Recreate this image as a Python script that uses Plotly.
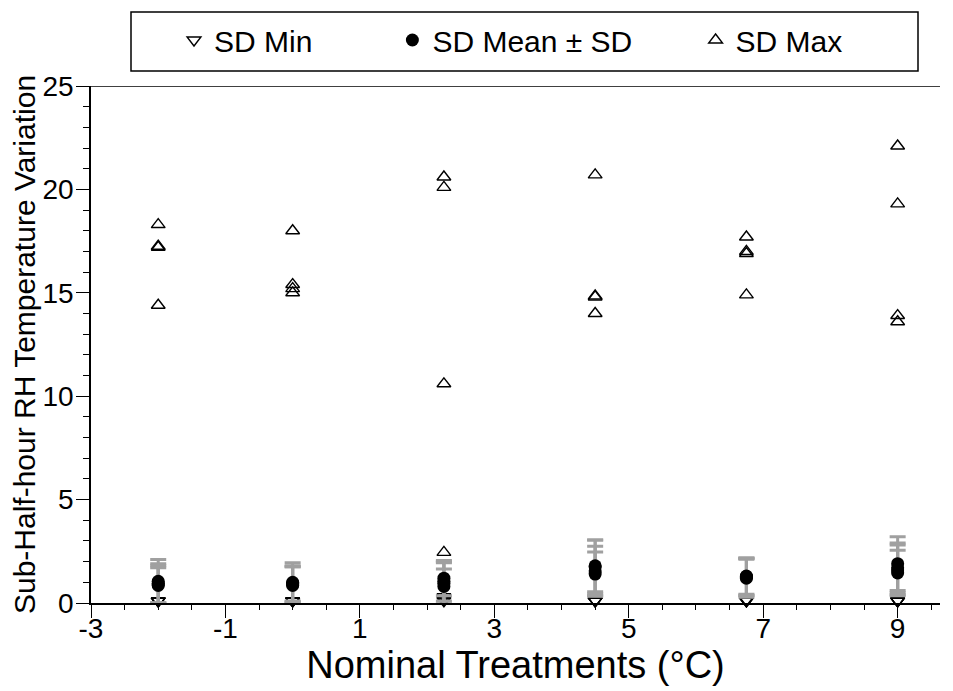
import plotly.graph_objects as go

# Nominal treatments (°C), four replicate plots each
treatments = [-2, 0, 2.25, 4.5, 6.75, 9]
reps_per_treatment = 4

sd_min = [
    0.1, 0.1, 0.1, 0.1,
    0.1, 0.1, 0.1, 0.1,
    0.1, 0.3, 0.2, 0.15,
    0.1, 0.1, 0.1, 0.1,
    0.15, 0.1, 0.1, 0.1,
    0.1, 0.1, 0.1, 0.1,
]
sd_mean = [
    0.85, 1.05, 0.95, 0.9,
    0.85, 1.0, 0.95, 0.9,
    0.8, 1.2, 0.95, 1.05,
    1.4, 1.75, 1.55, 1.8,
    1.25, 1.3, 1.2, 1.28,
    1.45, 1.9, 1.7, 1.6,
]
sd_of_sd = [
    0.85, 1.05, 0.95, 0.9,
    0.9, 0.95, 0.85, 0.85,
    0.85, 0.85, 1.0, 0.95,
    1.07, 1.3, 1.2, 1.25,
    0.9, 0.88, 0.92, 0.9,
    1.1, 1.3, 1.2, 1.2,
]
sd_max = [
    18.3, 17.2, 14.4, 17.25,
    18.0, 15.4, 15.2, 15.0,
    20.6, 20.1, 10.6, 2.45,
    20.7, 14.8, 14.0, 14.85,
    17.7, 17.0, 16.9, 14.9,
    22.1, 19.3, 13.9, 13.6,
]
legend_names = ["SD Min", "SD Mean ± SD", "SD Max"]
legend_pad = [9, 7, 0]  # trailing non-breaking spaces to space legend items

x_vals = [t for t in treatments for _ in range(reps_per_treatment)]

FONT = "Liberation Sans, Arial, Helvetica, sans-serif"
names = [n + "\u00a0" * p for n, p in zip(legend_names, legend_pad)]

# the page body has an 8px margin, so the figure is drawn 8px smaller and offset
OFF = 8
W, H = 953 - OFF, 691 - OFF
PLOT_L, PLOT_W, PLOT_T, PLOT_H = 91 - OFF, 849, 86 - OFF, 517

fig = go.Figure()
fig.add_trace(go.Scatter(
    x=x_vals, y=sd_min, mode="markers", name=names[0],
    marker=dict(symbol="triangle-down-open", size=12, color="black",
                line=dict(width=1.4, color="black")),
    cliponaxis=False,
))
fig.add_trace(go.Scatter(
    x=x_vals, y=sd_mean, mode="markers", name=names[1],
    marker=dict(symbol="circle", size=13, color="black"),
    error_y=dict(type="data", array=sd_of_sd, visible=True,
                 color="#a0a0a0", thickness=3, width=8),
    cliponaxis=False,
))
fig.add_trace(go.Scatter(
    x=x_vals, y=sd_max, mode="markers", name=names[2],
    marker=dict(symbol="triangle-up-open", size=12, color="black",
                line=dict(width=1.4, color="black")),
    cliponaxis=False,
))

# top frame line and legend box
fig.add_shape(type="line", xref="paper", yref="y", x0=0, x1=1, y0=25, y1=25,
              line=dict(color="black", width=1.5))
fig.add_shape(type="rect", xref="paper", yref="paper",
              x0=(131 - OFF - PLOT_L) / PLOT_W, x1=(918 - OFF - PLOT_L) / PLOT_W,
              y0=1 + (PLOT_T - (71 - OFF)) / PLOT_H, y1=1 + (PLOT_T - (12 - OFF)) / PLOT_H,
              line=dict(color="black", width=1.5), fillcolor="rgba(0,0,0,0)")

fig.update_layout(
    width=W, height=H,
    margin=dict(l=PLOT_L, r=W - PLOT_L - PLOT_W, t=PLOT_T, b=H - PLOT_T - PLOT_H, autoexpand=False),
    plot_bgcolor="white", paper_bgcolor="white",
    font=dict(family=FONT, color="black"),
    showlegend=True,
    legend=dict(
        orientation="h", xref="container", yref="container",
        x=(174 - OFF) / W, xanchor="left", y=1 - (40 - OFF) / H, yanchor="middle",
        font=dict(size=30, family=FONT), borderwidth=0,
        itemsizing="trace", bgcolor="rgba(0,0,0,0)",
    ),
    xaxis=dict(
        automargin=False,
        range=[-3, 9.63], tickvals=[-3, -1, 1, 3, 5, 7, 9],
        ticktext=["-3", "-1", "1", "3", "5", "7", "9"],
        ticks="outside", ticklen=13, tickwidth=1.3, tickcolor="black",
        ticklabelstandoff=-14,
        minor=dict(ticks="outside", ticklen=5, dtick=0.5, tick0=-3, tickcolor="black"),
        showline=True, linecolor="black", linewidth=2,
        showgrid=False, zeroline=False,
        tickfont=dict(size=28, family=FONT),
        title=dict(text="Nominal Treatments (°C)", font=dict(size=38, family=FONT), standoff=0),
    ),
    yaxis=dict(
        automargin=False,
        range=[0, 25], tickvals=[0, 5, 10, 15, 20, 25],
        ticks="outside", ticklen=13, tickwidth=1.3, tickcolor="black",
        ticklabelstandoff=-3,
        minor=dict(ticks="outside", ticklen=6, dtick=1, tick0=0, tickcolor="black"),
        showline=True, linecolor="black", linewidth=1.5,
        showgrid=False, zeroline=False,
        tickfont=dict(size=28, family=FONT),
        title=dict(text="Sub-Half-hour RH Temperature Variation", font=dict(size=30, family=FONT), standoff=2),
    ),
)

fig.write_html("out.html")
